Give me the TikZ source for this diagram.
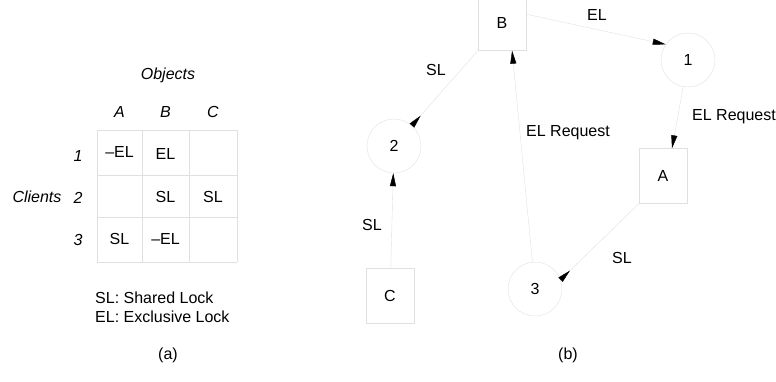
\documentclass[tikz,border=0pt]{standalone}
\usepackage{fontspec}
\setmainfont{Liberation Sans}
\usetikzlibrary{arrows.meta}
\colorlet{faint}{black!12}
\tikzset{
  objbox/.style={draw=faint, minimum width=48pt, minimum height=55pt, inner sep=0pt},
  client/.style={draw=faint, circle, minimum size=54pt, inner sep=0pt},
  edge/.style={draw=faint, -{Triangle[length=13pt,width=6pt,color=black]}},
  backedge/.style={draw=faint, -{Triangle[length=13pt,width=6pt,color=black,reversed]}},
}
\begin{document}
\begin{tikzpicture}[x=1pt,y=-1pt,font=\fontsize{16}{19}\selectfont]
\useasboundingbox (0,0) rectangle (776,381);

\foreach \x in {97,142,189,237} \draw[faint] (\x,130) -- (\x,262);
\foreach \y in {130,175,217,262} \draw[faint] (97,\y) -- (237,\y);

\node (objects) at (168,75) {\itshape Objects};
\node (colA) at (119.5,112) {\itshape A};
\node (colB) at (165.5,112) {\itshape B};
\node (colC) at (213,112) {\itshape C};
\node (row1) at (78,156) {\itshape 1};
\node (row2) at (78,198) {\itshape 2};
\node (row3) at (78,240) {\itshape 3};
\node (clients) at (37,197) {\itshape Clients};
\node (a1) at (119.5,152) {–EL};
\node (b1) at (165.5,154) {EL};
\node (b2) at (165.5,197) {SL};
\node (c2) at (213,197) {SL};
\node (a3) at (119.5,239) {SL};
\node (b3) at (165.5,239) {–EL};
\node[anchor=west, align=left, inner sep=0pt] (legend) at (95,307) {SL: Shared Lock\\EL: Exclusive Lock};
\node (capa) at (168,355) {(a)};

\node[objbox] (B) at (502,23) {B};
\node[objbox] (A) at (663,176) {A};
\node[objbox] (C) at (390,296) {C};
\node[client] (cl1) at (688,60) {1};
\node[client] (cl2) at (394,146) {2};
\node[client] (cl3) at (535,289) {3};

\draw[edge] (B.20) -- (cl1.145);
\draw[edge] (cl1) -- (A.72);
\draw[backedge] (A.south west) -- (cl3.20);
\draw[edge] (cl3) -- (B.290);
\draw[backedge] (B) -- (cl2);
\draw[edge] (C) -- (cl2);

\node (lblEL) at (597,15) {EL};
\node (lblSLb) at (436,70) {SL};
\node (lblreq3) at (568,133) {EL Request};
\node[anchor=west, inner sep=0pt] (lblreq1) at (692,117) {EL Request};
\node (lblSLa) at (622,258) {SL};
\node (lblSLc) at (372,225) {SL};
\node (capb) at (568,355) {(b)};
\end{tikzpicture}
\end{document}
